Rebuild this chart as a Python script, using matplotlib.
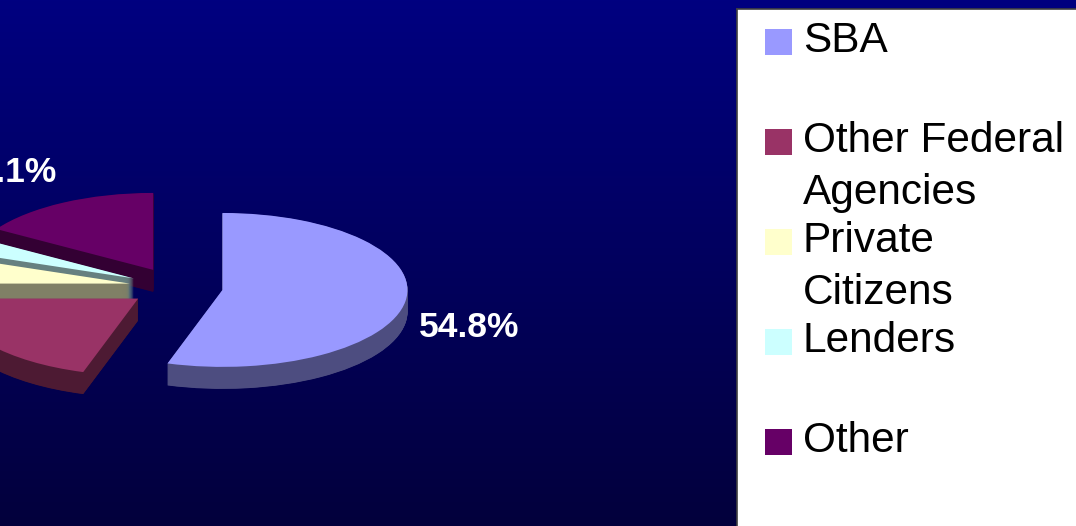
import numpy as np
import matplotlib.pyplot as plt
from matplotlib.patches import Rectangle
from matplotlib.colors import LinearSegmentedColormap

plt.rcParams['font.family'] = ['Liberation Sans', 'DejaVu Sans']

# data
categories = ["SBA", "Other Federal\nAgencies", "Private\nCitizens", "Lenders", "Other"]
shares = [54.8, 20.2, 5.6, 3.3, 16.1]
pct_text = ["54.8%", "20.2%", "5.6%", "3.3%", "16.1%"]
top_colors = ["#9999FF", "#993366", "#FFFFCC", "#CCFFFF", "#660066"]
side_colors = ["#4D4D80", "#4D1A33", "#808066", "#668080", "#330033"]

# geometry (pixels, y squashed to fake the tilt)
W, H = 1076, 526
k = 0.416
R = 185
cx, cy = 176, (H - 287) / k
depth = 22 / k
gap = 47
lbl_dist = [1.35, 1.4, 1.4, 1.5, 1.63]
lbl_stretch = 1.08
lbl_drop = 72.7

fig = plt.figure(figsize=(W / 100, H / 100), dpi=100)

# background gradient
bg = fig.add_axes([0, 0, 1, 1])
cmap = LinearSegmentedColormap.from_list("bg", ["#000080", "#03003C"])
bg.imshow(np.linspace(0, 1, 256).reshape(-1, 1), aspect="auto", cmap=cmap,
          extent=[0, 1, 0, 1])
bg.axis("off")

ax = fig.add_axes([0, 0, 1, 1])
ax.patch.set_alpha(0)

# side of the slices: stack of darker pies
for z in np.linspace(-depth, 0, 70)[:-1]:
    ax.pie(shares, explode=[gap] * len(shares), colors=side_colors, startangle=90,
           counterclock=False, center=(cx, cy + z), radius=R,
           wedgeprops=dict(linewidth=0), frame=True)
# top face
ax.pie(shares, explode=[gap] * len(shares), colors=top_colors, startangle=90,
       counterclock=False, center=(cx, cy), radius=R,
       wedgeprops=dict(linewidth=0), frame=True)

# percentage labels
cum = np.cumsum([0] + shares[:-1])
for i, v in enumerate(shares):
    th = np.deg2rad(90 - 3.6 * (cum[i] + v / 2))
    lx = cx + gap * np.cos(th) + lbl_dist[i] * R * np.cos(th)
    ly = cy + gap * np.sin(th) + lbl_dist[i] * R * np.sin(th) * lbl_stretch - lbl_drop
    if lx > -60:
        ax.text(lx, ly, pct_text[i], color="white", fontsize=25.5,
                fontweight="bold", ha="center", va="baseline")

ax.set_xlim(0, W)
ax.set_ylim(0, H / k)
ax.set_aspect("auto")
ax.axis("off")

# legend box (runs off the right and bottom edge)
lg = fig.add_axes([737 / W, -0.1, 0.4, (H - 9) / H + 0.1])
lg.set_xlim(737, 737 + 0.4 * W)
lg.set_ylim(H + 0.1 * H, 9)
lg.set_facecolor("white")
lg.set_xticks([])
lg.set_yticks([])
for s in lg.spines.values():
    s.set_color("#404040")
    s.set_linewidth(1.2)

for i, name in enumerate(categories):
    base = 52 + 100 * i
    lg.add_patch(Rectangle((765, base - 23), 27, 26, facecolor=top_colors[i],
                           edgecolor="none"))
    for j, line in enumerate(name.split("\n")):
        lg.text(803, base + 52 * j, line, fontsize=30.5, color="black",
                ha="left", va="baseline")

fig.savefig("out.png", dpi=100)
